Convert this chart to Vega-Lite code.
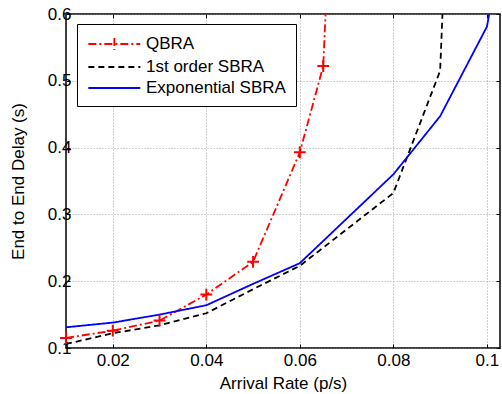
{
  "$schema": "https://vega.github.io/schema/vega-lite/v6.json",
  "width": 434,
  "height": 334,
  "autosize": {"type": "none"},
  "padding": {"left": 66, "top": 14, "right": 2, "bottom": 46},
  "background": "white",
  "config": {
    "font": "Liberation Sans",
    "view": {"stroke": "black", "strokeWidth": 1.5},
    "axis": {
      "domain": false,
      "tickColor": "black",
      "tickSize": -4,
      "tickWidth": 1,
      "labelFontSize": 17,
      "labelColor": "black",
      "labelFont": "Liberation Sans",
      "titleFont": "Liberation Sans",
      "titleFontSize": 17,
      "titleFontWeight": "normal",
      "titleColor": "black",
      "gridColor": "#8a8a8a",
      "gridDash": [1, 2],
      "gridWidth": 0.8
    },
    "legend": {
      "labelFont": "Liberation Sans",
      "labelFontSize": 17,
      "labelColor": "black"
    }
  },
  "datasets": {
    "curves": [
      {"series": "QBRA", "rate": 0.01, "delay": 0.115},
      {"series": "QBRA", "rate": 0.02, "delay": 0.126},
      {"series": "QBRA", "rate": 0.03, "delay": 0.141},
      {"series": "QBRA", "rate": 0.04, "delay": 0.180},
      {"series": "QBRA", "rate": 0.05, "delay": 0.229},
      {"series": "QBRA", "rate": 0.06, "delay": 0.393},
      {"series": "QBRA", "rate": 0.065, "delay": 0.522},
      {"series": "QBRA", "rate": 0.0655, "delay": 0.6},
      {"series": "1st order SBRA", "rate": 0.01, "delay": 0.106},
      {"series": "1st order SBRA", "rate": 0.02, "delay": 0.122},
      {"series": "1st order SBRA", "rate": 0.03, "delay": 0.134},
      {"series": "1st order SBRA", "rate": 0.04, "delay": 0.152},
      {"series": "1st order SBRA", "rate": 0.05, "delay": 0.188},
      {"series": "1st order SBRA", "rate": 0.06, "delay": 0.223},
      {"series": "1st order SBRA", "rate": 0.08, "delay": 0.332},
      {"series": "1st order SBRA", "rate": 0.09, "delay": 0.515},
      {"series": "1st order SBRA", "rate": 0.0905, "delay": 0.6},
      {"series": "Exponential SBRA", "rate": 0.01, "delay": 0.131},
      {"series": "Exponential SBRA", "rate": 0.02, "delay": 0.138},
      {"series": "Exponential SBRA", "rate": 0.03, "delay": 0.150},
      {"series": "Exponential SBRA", "rate": 0.04, "delay": 0.164},
      {"series": "Exponential SBRA", "rate": 0.05, "delay": 0.196},
      {"series": "Exponential SBRA", "rate": 0.06, "delay": 0.227},
      {"series": "Exponential SBRA", "rate": 0.08, "delay": 0.360},
      {"series": "Exponential SBRA", "rate": 0.09, "delay": 0.447},
      {"series": "Exponential SBRA", "rate": 0.1, "delay": 0.581},
      {"series": "Exponential SBRA", "rate": 0.1005, "delay": 0.6}
    ]
  },
  "data": {"name": "curves"},
  "resolve": {"axis": {"x": "independent", "y": "independent"}},
  "layer": [
    {
      "mark": {"type": "line", "clip": true},
      "encoding": {
        "x": {
          "field": "rate", "type": "quantitative",
          "scale": {"domain": [0.01, 0.1028], "nice": false, "zero": false},
          "axis": {"values": [0.02, 0.04, 0.06, 0.08, 0.1], "format": ".2~f", "title": "Arrival Rate (p/s)", "grid": true, "labelPadding": 8, "titlePadding": 7}
        },
        "y": {
          "field": "delay", "type": "quantitative",
          "scale": {"domain": [0.1, 0.6], "nice": false, "zero": false},
          "axis": {"values": [0.1, 0.2, 0.3, 0.4, 0.5, 0.6], "format": ".1f", "title": "End to End Delay (s)", "grid": true, "labelPadding": -1, "titlePadding": 20}
        },
        "color": {
          "field": "series", "type": "nominal",
          "scale": {"domain": ["QBRA", "1st order SBRA", "Exponential SBRA"], "range": ["#ff0000", "#000000", "#0000ff"]},
          "legend": {
            "title": null,
            "orient": "none",
            "legendX": 11,
            "legendY": 10,
            "symbolType": "M-1,0H5",
            "symbolSize": 300,
            "symbolStrokeWidth": 2,
            "strokeColor": "black",
            "fillColor": "white",
            "padding": 10,
            "labelOffset": 39,
            "rowPadding": 3,
            "encode": {
              "symbols": {
                "update": {
                  "shape": {"signal": "datum.value === 'QBRA' ? 'M-1,0H5M2,-0.7V0.7' : 'M-1,0H5'"}
                }
              }
            }
          }
        },
        "strokeDash": {
          "field": "series", "type": "nominal",
          "scale": {"domain": ["QBRA", "1st order SBRA", "Exponential SBRA"], "range": [[8, 3, 2, 3], [6, 4], [1, 0]]},
          "legend": null
        },
        "strokeWidth": {
          "field": "series", "type": "nominal",
          "scale": {"domain": ["QBRA", "1st order SBRA", "Exponential SBRA"], "range": [1.8, 1.8, 2.2]},
          "legend": null
        }
      }
    },
    {
      "transform": [{"filter": "datum.series === 'QBRA' && datum.rate <= 0.065"}],
      "mark": {"type": "point", "shape": "M-1,0H1M0,-1V1", "size": 140, "filled": false, "stroke": "#ff0000", "strokeWidth": 2, "opacity": 1},
      "encoding": {
        "x": {"field": "rate", "type": "quantitative", "axis": null},
        "y": {"field": "delay", "type": "quantitative", "axis": null}
      }
    },
    {
      "mark": {"type": "line", "opacity": 0},
      "encoding": {
        "x": {"field": "rate", "type": "quantitative", "axis": {"orient": "top", "values": [0.02, 0.04, 0.06, 0.08, 0.1], "labels": false, "title": null, "grid": false}},
        "y": {"field": "delay", "type": "quantitative", "axis": {"orient": "right", "values": [0.1, 0.2, 0.3, 0.4, 0.5, 0.6], "labels": false, "title": null, "grid": false}},
        "detail": {"field": "series", "type": "nominal"}
      }
    }
  ]
}
